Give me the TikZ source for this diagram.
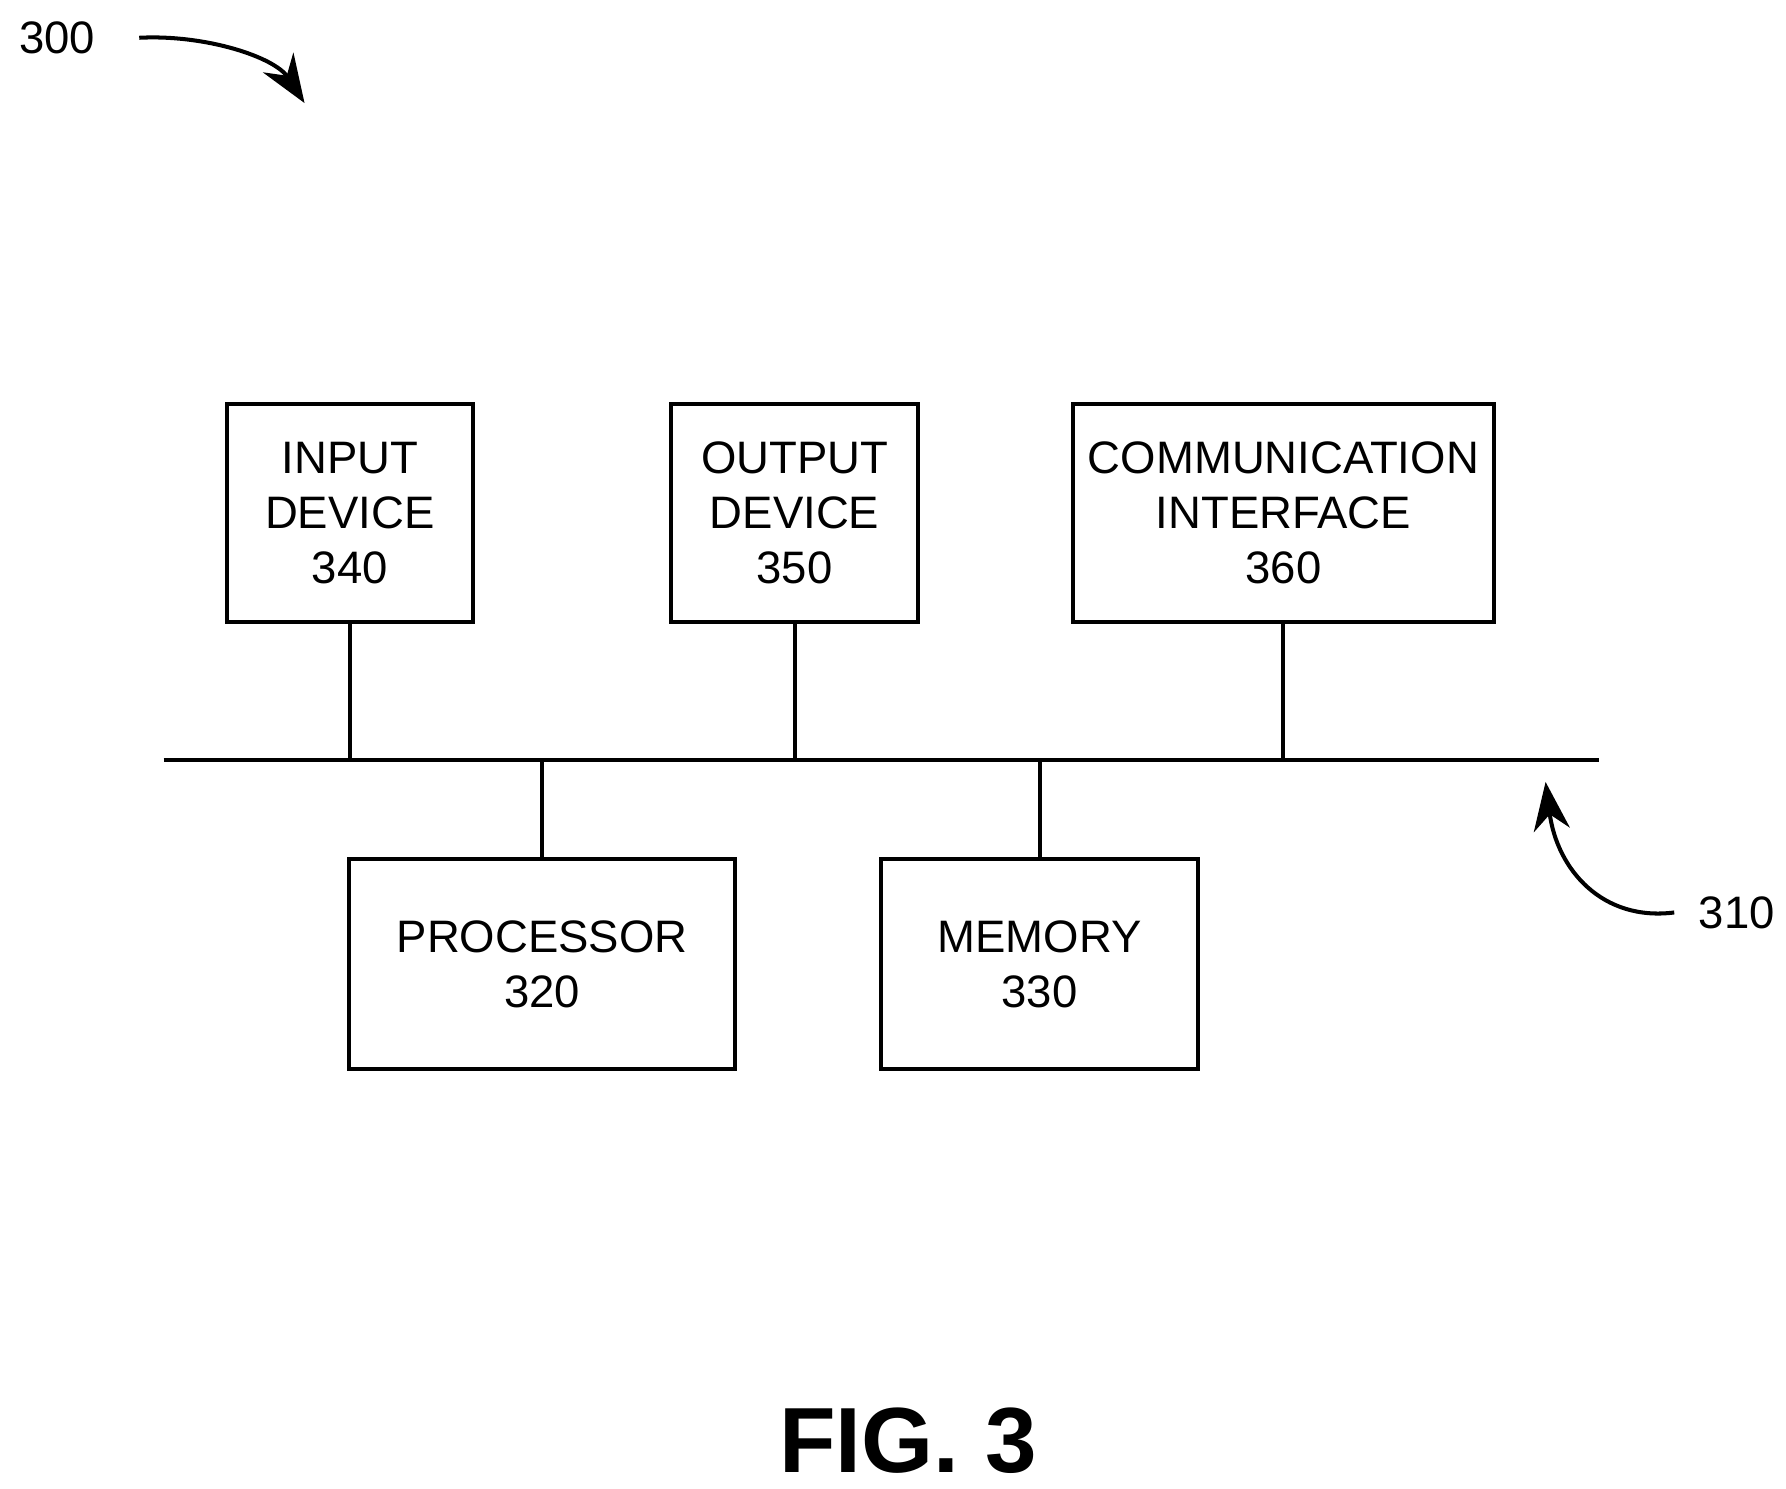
\documentclass[tikz,border=0pt]{standalone}
\usepackage{fontspec}
\setmainfont{Liberation Sans}
\usetikzlibrary{arrows.meta}

\begin{document}
\begin{tikzpicture}[x=0.01cm,y=-0.01cm,line width=1pt,
  every node/.append style={font=\fontsize{11.3}{13.7}\selectfont}]
  \tikzstyle{unit} = [draw,rectangle,align=center,inner sep=0pt]
  \tikzstyle{ref} = [-{Stealth[length=12pt,width=9pt]}]
  \useasboundingbox (0,0) rectangle (1560,1300);
  % units on the bus
  \node (in)   [unit,minimum width=2.15cm,minimum height=1.9cm] at (305.5,448) {INPUT\\DEVICE\\340};
  \node (out)  [unit,minimum width=2.16cm,minimum height=1.9cm] at (694,448) {OUTPUT\\DEVICE\\350};
  \node (comm) [unit,minimum width=3.68cm,minimum height=1.9cm] at (1121,448) {COMMUNICATION\\INTERFACE\\360};
  \node (proc) [unit,minimum width=3.37cm,minimum height=1.84cm] at (473.5,842) {PROCESSOR\\320};
  \node (mem)  [unit,minimum width=2.76cm,minimum height=1.84cm] at (908,842) {MEMORY\\330};
  % bus
  \coordinate (busL) at (143,664);
  \coordinate (busR) at (1397,664);
  \draw (busL) -- (busR);
  \foreach \n in {in,out,comm} \draw (\n.south) -- (\n.south |- busL);
  \foreach \n in {proc,mem} \draw (\n.north) -- (\n.north |- busL);
  % reference labels
  \node (l300) at (50,33) {300};
  \coordinate (t300) at (266,90);
  \draw[ref] (l300.east) ++(25,0) .. controls (180,30) and (240,50) .. (t300);
  \node (l310) at (1517,797) {310};
  \coordinate (t310) at (1350,683);
  \draw[ref] (l310.west) ++(-8,0) .. controls (1400,805) and (1360,760) .. (t310);
  \node (fig) at (793,1258) {\fontsize{23}{27}\selectfont\bfseries FIG. 3};
\end{tikzpicture}
\end{document}
